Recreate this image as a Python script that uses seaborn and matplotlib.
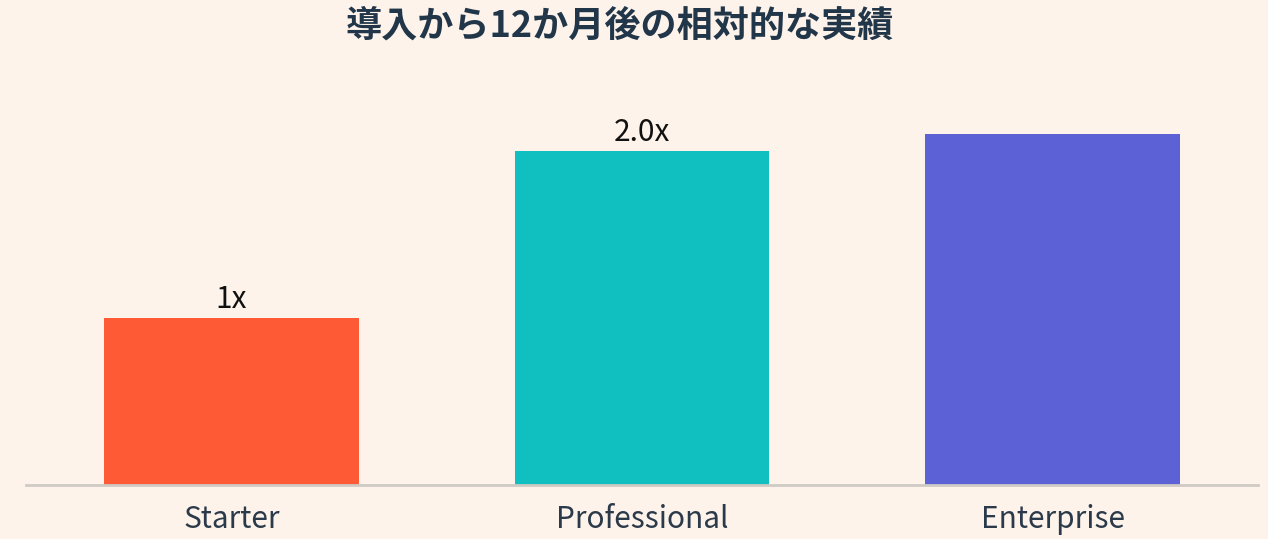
import pandas as pd
import matplotlib.pyplot as plt
import seaborn as sns

# Chart data
plans = ["Starter", "Professional", "Enterprise"]
relative_perf = [1.0, 2.0, 2.1]
bar_labels = ["1x", "2.0x", ""]
bar_colors = ["#FF5A36", "#10BFBF", "#5C62D6"]

df = pd.DataFrame({"plan": plans, "value": relative_perf})

sns.set_theme(style="white")
plt.rcParams['font.family'] = ['Noto Sans CJK JP', 'DejaVu Sans']

bg = "#FDF3EA"
fig = plt.figure(figsize=(12.68, 5.39), dpi=100, facecolor=bg)
ax = fig.add_axes([26 / 1268, 54 / 539, 1232 / 1268, 417.5 / 539])
ax.set_facecolor(bg)

sns.barplot(data=df, x="plan", y="value", hue="plan", palette=bar_colors,
            width=0.62, legend=False, ax=ax, saturation=1, linewidth=0)

ax.set_ylim(0, 2.5)
ax.set_xlim(-0.5, 2.5)
ax.set_xlabel("")
ax.set_ylabel("")
ax.set_yticks([])

for s in ["top", "right", "left"]:
    ax.spines[s].set_visible(False)
ax.spines["bottom"].set_color("#CFCAC4")
ax.spines["bottom"].set_linewidth(2)

ax.tick_params(axis="x", length=0, pad=13.5, labelsize=21.5, labelcolor="#2B3A4A")

for i, (v, lab) in enumerate(zip(relative_perf, bar_labels)):
    if lab:
        ax.annotate(lab, (i, v), xytext=(0, 2), textcoords="offset points",
                    ha="center", va="bottom", fontsize=21.5, color="#111111")

fig.text(620 / 1268, 1 - 26 / 539, "導入から12か月後の相対的な実績",
         ha="center", va="center", fontsize=26, fontweight="bold", color="#22364A")

fig.savefig("out.png", dpi=100, facecolor=bg)
